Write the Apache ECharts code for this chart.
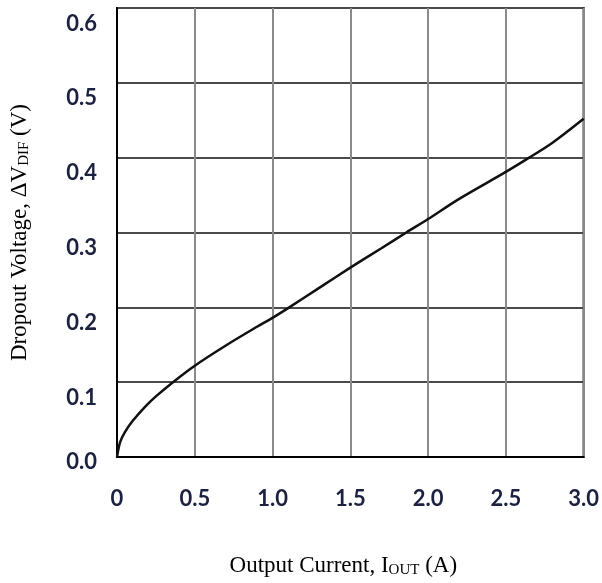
<!DOCTYPE html>
<html>
<head>
<meta charset="utf-8">
<script src="https://cdn.jsdelivr.net/npm/echarts@6/dist/echarts.min.js"></script>
<style>
  html, body { margin: 0; padding: 0; background: #fff; }
  #chart { width: 602px; height: 583px; }
</style>
</head>
<body>
<div id="chart"></div>
<script>
// Output current (A) and dropout voltage (V) along the measured curve
const currentA = [0, 0.02, 0.05, 0.1, 0.18, 0.25, 0.36, 0.5, 0.7, 0.9, 1.0, 1.1, 1.3, 1.5, 1.7, 1.86, 2.0, 2.2, 2.5, 2.65, 2.8, 3.0];
const dropoutV = [0, 0.020, 0.033, 0.048, 0.067, 0.081, 0.100, 0.122, 0.149, 0.174, 0.186, 0.199, 0.226, 0.253, 0.279, 0.300, 0.318, 0.345, 0.381, 0.400, 0.420, 0.452];

// Tick labels
const xTicks = ['0', '0.5', '1.0', '1.5', '2.0', '2.5', '3.0'];
const yTicks = ['0.0', '0.1', '0.2', '0.3', '0.4', '0.5', '0.6'];

const tickText = {
  fontFamily: 'Lato',
  fontWeight: 'bold',
  fontSize: 22,
  color: '#1c2140'
};

const titleRich = {
  a: { fontFamily: 'Liberation Serif', fontSize: 23, color: '#000', lineHeight: 28, verticalAlign: 'bottom' },
  s: { fontFamily: 'Liberation Serif', fontSize: 15, color: '#000', lineHeight: 16, verticalAlign: 'bottom', padding: [0, 0, -1, 0] }
};

const chart = echarts.init(document.getElementById('chart'), null, { renderer: 'canvas' });

chart.setOption({
  animation: false,
  backgroundColor: '#fff',
  grid: {
    left: 116, right: 18, top: 8, bottom: 119,
    show: true, borderColor: '#000', borderWidth: 2, backgroundColor: 'transparent'
  },
  xAxis: {
    type: 'value', min: 0, max: 3, interval: 0.5,
    axisLine: { show: true, lineStyle: { color: '#000', width: 2 } },
    axisTick: { show: false },
    splitLine: { show: true, lineStyle: { color: '#8a8a8a', width: 2 } },
    axisLabel: Object.assign({
      margin: 31,
      formatter: v => xTicks[Math.round(v / 0.5)]
    }, tickText),
    name: '{a|Output Current, I}{s|OUT}{a| (A)}',
    nameLocation: 'middle',
    nameGap: 92,
    nameTextStyle: { padding: [0, 14, 0, 0], rich: titleRich }
  },
  yAxis: {
    type: 'value', min: 0, max: 0.6, interval: 0.1,
    axisLine: { show: true, lineStyle: { color: '#000', width: 2 } },
    axisTick: { show: false },
    splitLine: { show: true, lineStyle: { color: '#4a4a4a', width: 2 } },
    axisLabel: {
      margin: 20,
      formatter: v => {
        const i = Math.round(v / 0.1);
        return i === 0 ? '{b|' + yTicks[i] + '}' : '{d|' + yTicks[i] + '}';
      },
      rich: {
        // labels sit a little below their grid lines, the bottom one on it
        d: Object.assign({ padding: [31, 0, 0, 0] }, tickText),
        b: Object.assign({ padding: [10, 0, 0, 0] }, tickText)
      }
    },
    name: '{a|Dropout Voltage, \u0394V}{s|DIF}{a| (V)}',
    nameLocation: 'middle',
    nameGap: 86,
    nameTextStyle: { rich: titleRich }
  },
  series: [{
    type: 'line',
    data: currentA.map((x, i) => [x, dropoutV[i]]),
    smooth: 0.3,
    showSymbol: false,
    lineStyle: { color: '#111', width: 2.5 },
    z: 5
  }]
});
</script>
</body>
</html>
